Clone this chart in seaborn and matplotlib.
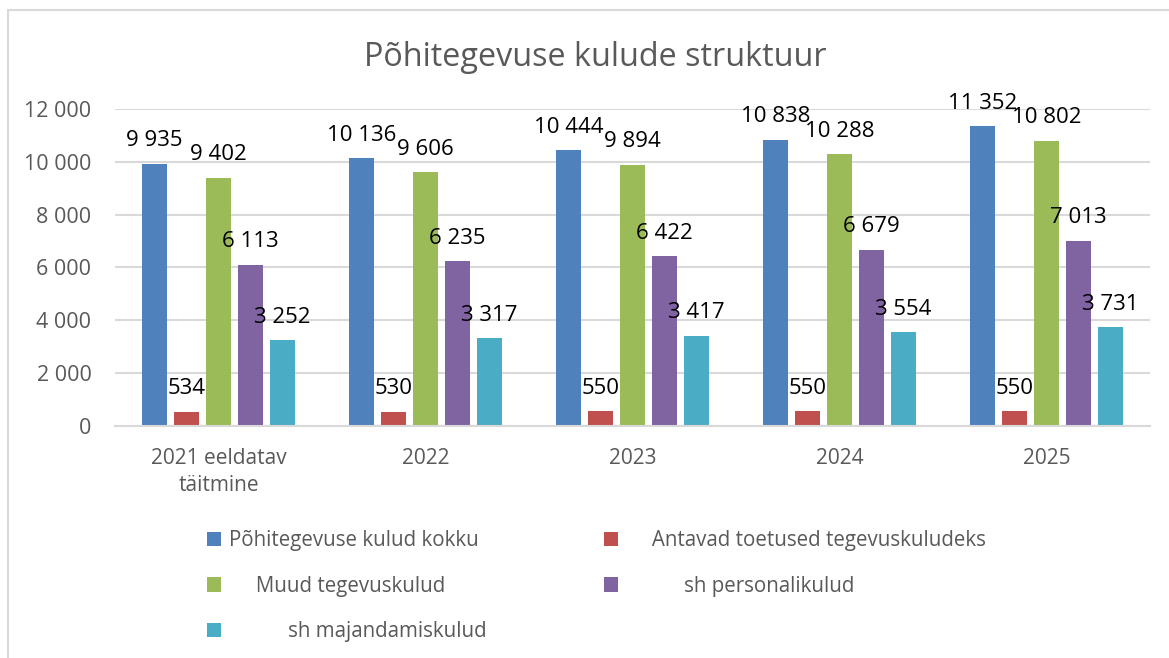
import matplotlib
matplotlib.use("Agg")
import matplotlib.pyplot as plt
from matplotlib.patches import Patch
from matplotlib.lines import Line2D
import seaborn as sns
import pandas as pd

years = ["2021 eeldatav\ntäitmine", "2022", "2023", "2024", "2025"]
series = ["Põhitegevuse kulud kokku",
          "     Antavad toetused tegevuskuludeks",
          "     Muud tegevuskulud",
          "           sh personalikulud",
          "           sh majandamiskulud"]
kokku = [9935, 10136, 10444, 10838, 11352]
toetused = [534, 530, 550, 550, 550]
muud = [9402, 9606, 9894, 10288, 10802]
personal = [6113, 6235, 6422, 6679, 7013]
majandamis = [3252, 3317, 3417, 3554, 3731]
colors = ["#4F81BD", "#C0504D", "#9BBB59", "#8064A2", "#4BACC6"]
yticks = [0, 2000, 4000, 6000, 8000, 10000, 12000]

values = [kokku, toetused, muud, personal, majandamis]
rows = []
for s, vals in zip(series, values):
    for y, v in zip(years, vals):
        rows.append({"year": y, "series": s, "value": v})
df = pd.DataFrame(rows)

sns.set_theme(style="white")
plt.rcParams["font.family"] = ["Open Sans", "DejaVu Sans"]

fig = plt.figure(figsize=(11.69, 6.58), dpi=100)
ax = fig.add_axes([115/1169, 1-426/658, (1150-115)/1169, (426-109)/658])

sns.barplot(data=df, x="year", y="value", hue="series", palette=colors,
            hue_order=series, order=years, width=160/207, dodge=True,
            saturation=1, errorbar=None, legend=False, ax=ax, linewidth=0)

bw = 25/207
for cont in ax.containers:
    for p in cont.patches:
        c = p.get_x() + p.get_width()/2
        p.set_x(c - bw/2)
        p.set_width(bw)

for cont, vals in zip(ax.containers, values):
    labels = [f"{v:,}".replace(",", " ") for v in vals]
    ax.bar_label(cont, labels=labels, padding=9, fontsize=16, color="black")

ax.set_ylim(0, 12000)
ax.set_xlim(-0.5, 4.5)
ax.set_yticks(yticks)
ax.set_yticklabels([f"{v:,}".replace(",", " ") for v in yticks])
ax.set_xlabel("")
ax.set_ylabel("")
ax.grid(axis="y", color="#D9D9D9", linewidth=1.5)
ax.set_axisbelow(True)
for s in ["left", "right", "top"]:
    ax.spines[s].set_visible(False)
ax.spines["bottom"].set_color("#D9D9D9")
ax.spines["bottom"].set_linewidth(1.5)
ax.tick_params(axis="y", length=0, pad=17, labelsize=15.5, labelcolor="#595959")
ax.tick_params(axis="x", length=0, pad=16, labelsize=15, labelcolor="#595959")
for t in ax.get_xticklabels():
    t.set_linespacing(1.35)

fig.text(595/1169, 1-66/658, "Põhitegevuse kulude struktuur", ha="center",
         va="baseline", fontsize=23.3, color="#595959")

handles = [Patch(facecolor=c, edgecolor="none") for c in colors]
order = [0, 2, 4, 1, 3]
fig.legend([handles[i] for i in order], [series[i] for i in order],
           ncol=2, loc="upper left", bbox_to_anchor=(207/1169, 1-530/658),
           frameon=False, fontsize=14.8, borderpad=0, borderaxespad=0,
           handlelength=0.68, handleheight=0.68, handletextpad=0.38,
           labelspacing=1.2, columnspacing=5.7, labelcolor="#595959")

fig.add_artist(Line2D([8/1169, 1], [1-10/658, 1-10/658], color="#D9D9D9",
                      linewidth=1.5, transform=fig.transFigure))
fig.add_artist(Line2D([8/1169, 8/1169], [0, 1-10/658], color="#D9D9D9",
                      linewidth=1.5, transform=fig.transFigure))

fig.savefig("out.png", dpi=100)
